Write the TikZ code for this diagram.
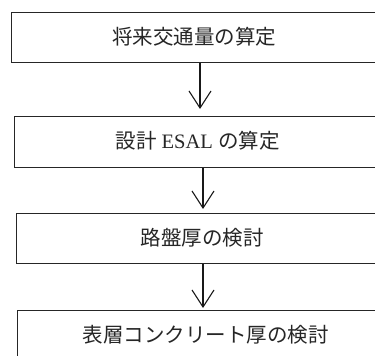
\documentclass[tikz,border=0pt]{standalone}
\usepackage{fontspec}
\setmainfont{Liberation Serif}
\newfontfamily\cjk{Noto Sans CJK JP}
\usetikzlibrary{arrows.meta}
\tikzset{
  box/.style={draw=black!85, line width=1.1pt, rectangle, inner sep=0pt, anchor=north west},
  lbl/.style={font=\fontsize{20.5}{24}\selectfont, inner sep=0pt, text=black!85},
  arr/.style={draw=black!90, line width=1.1pt, -{Straight Barb[length=17pt,width=22pt,line width=1.1pt]}}
}
\begin{document}
\begin{tikzpicture}[x=1pt,y=-1pt]
\useasboundingbox (0,0) rectangle (375,356);
\clip (0,0) rectangle (375,356);
\fill[white] (0,0) rectangle (375,356);
% boxes
\node[box, minimum width=400pt, minimum height=50pt] (b1) at (11,12) {};
\node[box, minimum width=400pt, minimum height=51pt] (b2) at (14,116) {};
\node[box, minimum width=400pt, minimum height=50pt] (b3) at (16,213) {};
\node[box, minimum width=400pt, minimum height=50pt] (b4) at (17,310) {};
% labels
\node[lbl] (t1) at (194,37) {\cjk 将来交通量の算定};
\node[lbl] (t2) at (197.5,141) {{\cjk 設計} ESAL {\cjk の算定}};
\node[lbl] (t3) at (202,238) {\cjk 路盤厚の検討};
\node[lbl] (t4) at (205.5,335) {\cjk 表層コンクリート厚の検討};
% arrow columns
\coordinate (c1) at (200,0);
\coordinate (c2) at (203,0);
\draw[arr, shorten >=7pt] (b1.south west -| c1) -- (b2.north west -| c1);
\draw[arr, shorten >=4pt] (b2.south west -| c2) -- (b3.north west -| c2);
\draw[arr, shorten >=2pt] (b3.south west -| c2) -- (b4.north west -| c2);
\end{tikzpicture}
\end{document}
